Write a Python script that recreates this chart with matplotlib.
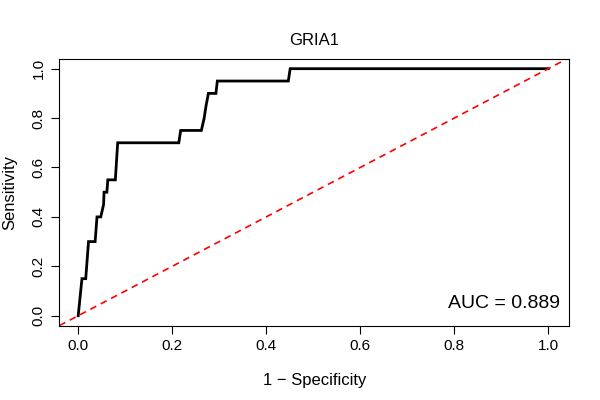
import matplotlib
matplotlib.use("Agg")
import matplotlib.pyplot as plt

plt.rcParams['font.family'] = ['Liberation Sans', 'DejaVu Sans']

# ROC curve points (1 - specificity, sensitivity)
fpr = [0, 0.008, 0.016, 0.022, 0.036, 0.040, 0.048, 0.054, 0.055, 0.061,
       0.063, 0.079, 0.084, 0.214, 0.218, 0.262, 0.268, 0.272, 0.277, 0.293,
       0.296, 0.447, 0.451, 1.0]
tpr = [0, 0.15, 0.15, 0.30, 0.30, 0.40, 0.40, 0.45, 0.50, 0.50,
       0.55, 0.55, 0.70, 0.70, 0.75, 0.75, 0.80, 0.85, 0.90, 0.90,
       0.95, 0.95, 1.0, 1.0]
ticks = [0.0, 0.2, 0.4, 0.6, 0.8, 1.0]
title = "GRIA1"
auc = 0.889

fig = plt.figure(figsize=(6, 4), dpi=100)
ax = fig.add_axes([0.099, 0.186, 0.850, 0.667])

ax.plot(fpr, tpr, color='black', lw=2, solid_joinstyle='miter')
ax.axline((0, 0), slope=1, color='red', lw=1.2, ls=(0, (4, 3)))

ax.set_xlim(-0.04, 1.045)
ax.set_ylim(-0.04, 1.04)
ax.set_xticks(ticks)
ax.set_yticks(ticks)
ax.set_xticklabels([f"{t:.1f}" for t in ticks])
ax.set_yticklabels([f"{t:.1f}" for t in ticks], rotation=90, va='center')
ax.tick_params(direction='out', length=6, width=0.8, labelsize=11, pad=4)

for s in ax.spines.values():
    s.set_linewidth(0.8)

ax.set_title(title, fontsize=12, pad=10)
ax.set_xlabel("1 \u2212 Specificity", fontsize=12, labelpad=14)
ax.set_ylabel("Sensitivity", fontsize=12, labelpad=10)
ax.text(0.905, 0.05, f"AUC = {auc:.3f}", fontsize=14, ha='center', va='center')

fig.savefig("out.png", dpi=100)
